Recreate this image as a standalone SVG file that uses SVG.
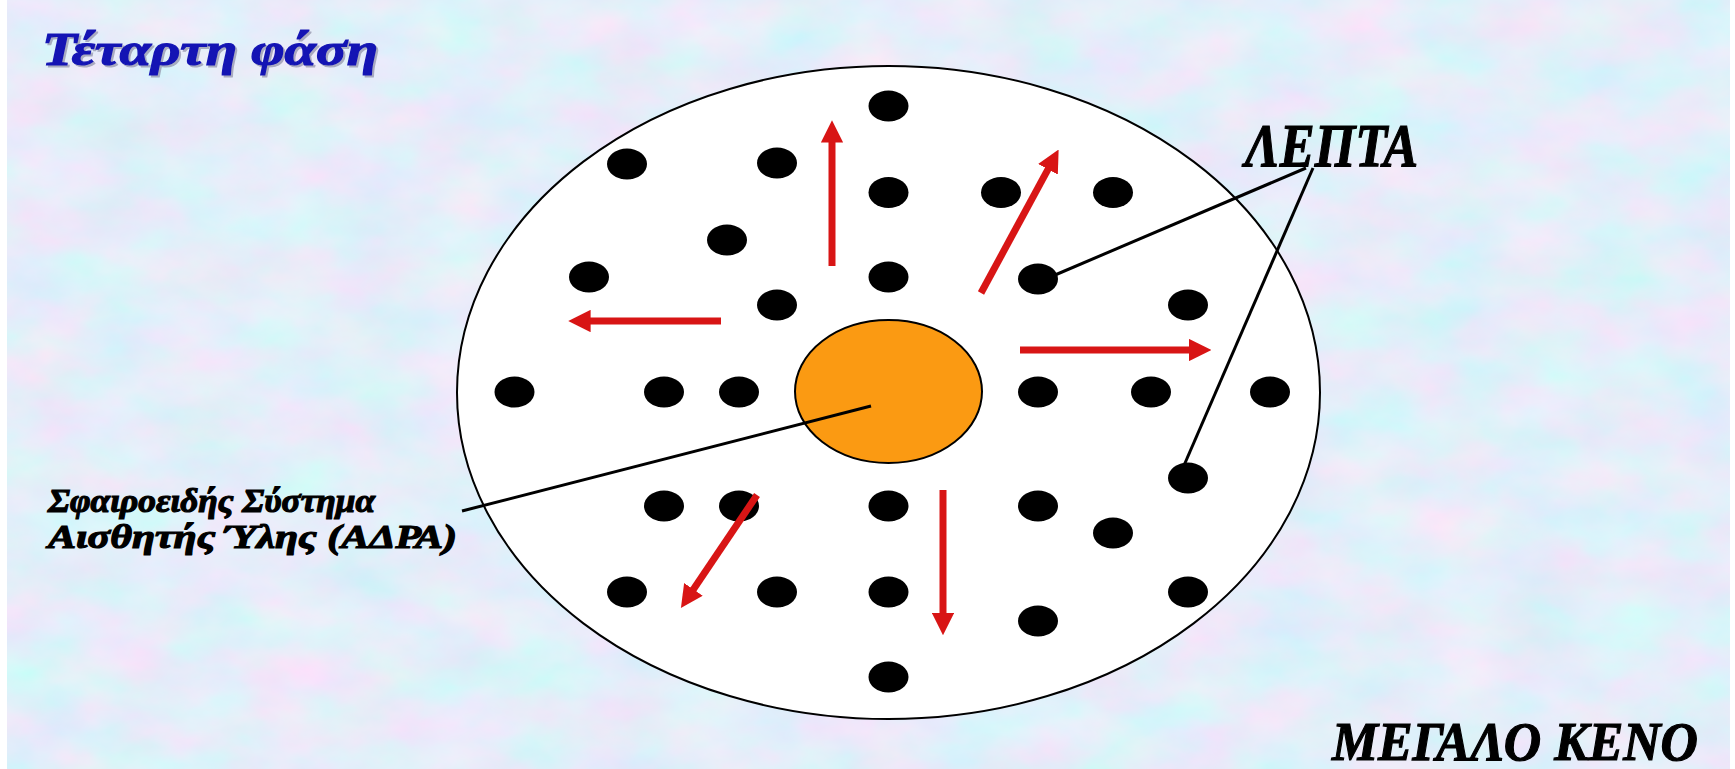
<svg xmlns="http://www.w3.org/2000/svg" width="1735" height="769" viewBox="0 0 1735 769">
  <defs>
    <filter id="tex" x="0" y="0" width="100%" height="100%">
      <feTurbulence type="fractalNoise" baseFrequency="0.012 0.02" numOctaves="4" seed="7" result="n"/>
      <feColorMatrix in="n" type="matrix" values="0.45 0 0 0 0.55  -0.2 0.15 0 0 0.88  0 0 0.08 0 0.91  0 0 0 0 1"/>
    </filter>
    <marker id="ah" viewBox="0 0 10 10" markerWidth="3.2" markerHeight="3.2" refX="0.5" refY="5" orient="auto" markerUnits="strokeWidth">
      <path d="M0,0 L10,5 L0,10 z" fill="#d81515"/>
    </marker>
    <style>
      .dot { fill: #000; }
      .arrow { stroke: #d81515; stroke-width: 7; fill: none; marker-end: url(#ah); }
      .lead { stroke: #000; stroke-width: 3; fill: none; }
      .lbl { font-family: "Liberation Serif", "DejaVu Serif", serif; font-weight: bold; font-style: italic; fill: #000; stroke: #000; stroke-width: 1.2; }
    </style>
  </defs>

  <rect x="0" y="0" width="1735" height="769" fill="#ffffff"/>
  <rect x="7" y="0" width="1723" height="769" fill="#cddcf2" filter="url(#tex)"/>

  <g id="title">
    <text x="44" y="67" class="lbl" font-size="46" textLength="336" lengthAdjust="spacingAndGlyphs" style="fill:#9090a8;stroke:#9090a8" opacity="0.7">Τέταρτη φάση</text>
    <text x="42" y="65" class="lbl" font-size="46" textLength="336" lengthAdjust="spacingAndGlyphs" style="fill:#1414b4;stroke:#1414b4">Τέταρτη φάση</text>
  </g>

  <g id="big-void-sphere">
    <ellipse cx="888.5" cy="392.5" rx="431.5" ry="326.5" fill="#ffffff" stroke="#000" stroke-width="2"/>
  </g>

  <g id="fine-particles">
    <ellipse class="dot" cx="888.5" cy="106" rx="20" ry="15.5"/>
    <ellipse class="dot" cx="627" cy="164" rx="20" ry="15.5"/>
    <ellipse class="dot" cx="777" cy="163" rx="20" ry="15.5"/>
    <ellipse class="dot" cx="888.5" cy="192.5" rx="20" ry="15.5"/>
    <ellipse class="dot" cx="1001" cy="192.5" rx="20" ry="15.5"/>
    <ellipse class="dot" cx="1113" cy="192.5" rx="20" ry="15.5"/>
    <ellipse class="dot" cx="727" cy="240" rx="20" ry="15.5"/>
    <ellipse class="dot" cx="589" cy="277" rx="20" ry="15.5"/>
    <ellipse class="dot" cx="888.5" cy="277" rx="20" ry="15.5"/>
    <ellipse class="dot" cx="1038" cy="279" rx="20" ry="15.5"/>
    <ellipse class="dot" cx="777" cy="305" rx="20" ry="15.5"/>
    <ellipse class="dot" cx="1188" cy="305" rx="20" ry="15.5"/>
    <ellipse class="dot" cx="514.5" cy="392" rx="20" ry="15.5"/>
    <ellipse class="dot" cx="664" cy="392" rx="20" ry="15.5"/>
    <ellipse class="dot" cx="739" cy="392" rx="20" ry="15.5"/>
    <ellipse class="dot" cx="1038" cy="392" rx="20" ry="15.5"/>
    <ellipse class="dot" cx="1151" cy="392" rx="20" ry="15.5"/>
    <ellipse class="dot" cx="1270" cy="392" rx="20" ry="15.5"/>
    <ellipse class="dot" cx="1188" cy="478" rx="20" ry="15.5"/>
    <ellipse class="dot" cx="664" cy="506" rx="20" ry="15.5"/>
    <ellipse class="dot" cx="739" cy="506" rx="20" ry="15.5"/>
    <ellipse class="dot" cx="888.5" cy="506" rx="20" ry="15.5"/>
    <ellipse class="dot" cx="1038" cy="506" rx="20" ry="15.5"/>
    <ellipse class="dot" cx="1113" cy="533" rx="20" ry="15.5"/>
    <ellipse class="dot" cx="627" cy="592" rx="20" ry="15.5"/>
    <ellipse class="dot" cx="777" cy="592" rx="20" ry="15.5"/>
    <ellipse class="dot" cx="888.5" cy="592" rx="20" ry="15.5"/>
    <ellipse class="dot" cx="1188" cy="592" rx="20" ry="15.5"/>
    <ellipse class="dot" cx="1038" cy="621" rx="20" ry="15.5"/>
    <ellipse class="dot" cx="888.5" cy="677" rx="20" ry="15.5"/>
  </g>

  <g id="core-body">
    <ellipse cx="888.5" cy="391.5" rx="93.5" ry="71.5" fill="#fb9a12" stroke="#000" stroke-width="2"/>
  </g>

  <g id="connectors">
    <line class="arrow" x1="832" y1="266" x2="832" y2="141.5"/>
    <line class="arrow" x1="981" y1="293" x2="1048.5" y2="168.3"/>
    <line class="arrow" x1="721" y1="321" x2="589.5" y2="321"/>
    <line class="arrow" x1="1020" y1="350" x2="1190" y2="350"/>
    <line class="arrow" x1="757" y1="495" x2="692.8" y2="590.3"/>
    <line class="arrow" x1="943" y1="490" x2="943" y2="614"/>
    <line class="lead" x1="462" y1="511" x2="871" y2="406"/>
    <line class="lead" x1="1306" y1="168" x2="1048" y2="278"/>
    <line class="lead" x1="1313" y1="168" x2="1182" y2="470"/>
  </g>

  <g id="label-adra">
    <text x="48" y="512" class="lbl" font-size="33" textLength="327" lengthAdjust="spacingAndGlyphs">Σφαιροειδής Σύστημα</text>
    <text x="48" y="548" class="lbl" font-size="33" textLength="409" lengthAdjust="spacingAndGlyphs">Αισθητής Ύλης (ΑΔΡΑ)</text>
  </g>

  <g id="label-lepta">
    <text x="1245" y="166" class="lbl" font-size="62" textLength="173" lengthAdjust="spacingAndGlyphs">ΛΕΠΤΑ</text>
  </g>

  <g id="label-void">
    <text x="1332" y="760" class="lbl" font-size="55" textLength="366" lengthAdjust="spacingAndGlyphs">ΜΕΓΑΛΟ ΚΕΝΟ</text>
  </g>
</svg>
